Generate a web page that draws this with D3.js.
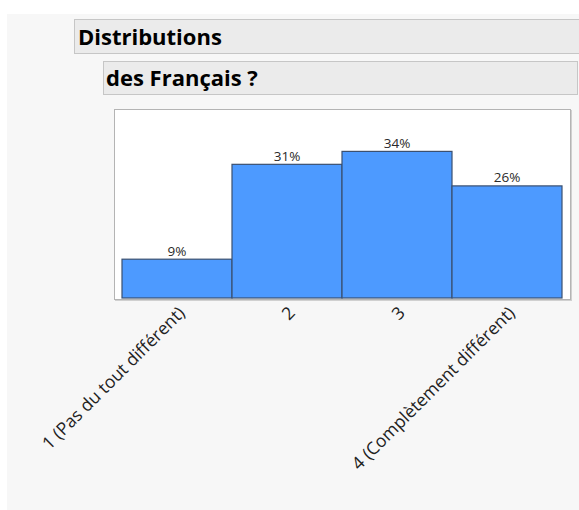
<!DOCTYPE html>
<html>
<head>
<meta charset="utf-8">
<script src="https://cdn.jsdelivr.net/npm/d3@7"></script>
<style>
  body { margin: 0; background: #fff; }
  svg { display: block; font-family: "Open Sans", "Noto Sans", sans-serif; }
</style>
</head>
<body>
<div id="chart"></div>
<script>
// data
var categories = ["1 (Pas du tout différent)", "2", "3", "4 (Complètement différent)"];
var percents = [9, 31, 34, 26];
var barLabels = ["9%", "31%", "34%", "26%"];
var titles = ["Distributions", "des Français ?"];

var svgWidth = 579;
var svgHeight = 510;

var svg = d3.select("#chart").append("svg").attr("width", svgWidth).attr("height", svgHeight);

// grey report panel
svg.append("rect").attr("x", 7).attr("y", 14).attr("width", svgWidth).attr("height", svgHeight)
  .attr("fill", "#f7f7f7");

// outline headers
svg.append("rect").attr("x", 74.5).attr("y", 19.5).attr("width", 520).attr("height", 34)
  .attr("fill", "#ebebeb").attr("stroke", "#c6c6c6");
svg.append("text").attr("x", 78).attr("y", 45).attr("font-size", 22).attr("font-weight", "bold")
  .attr("fill", "#000").text(titles[0]);

svg.append("rect").attr("x", 103.5).attr("y", 61.5).attr("width", 474).attr("height", 33)
  .attr("fill", "#ebebeb").attr("stroke", "#c6c6c6");
svg.append("text").attr("x", 106).attr("y", 86).attr("font-size", 22).attr("font-weight", "bold")
  .attr("fill", "#000").text(titles[1]);

// plot frame
var frame = { left: 114, top: 109, right: 570, bottom: 299 };
svg.append("rect").attr("x", frame.left + 1.5).attr("y", frame.top + 1.5)
  .attr("width", frame.right - frame.left).attr("height", frame.bottom - frame.top)
  .attr("fill", "none").attr("stroke", "#d0d0d0");
svg.append("rect").attr("x", frame.left + 0.5).attr("y", frame.top + 0.5)
  .attr("width", frame.right - frame.left).attr("height", frame.bottom - frame.top)
  .attr("fill", "#fff").attr("stroke", "#b4b4b4");

// scales
var xScale = d3.scaleBand().domain(categories).range([122, 562]).paddingInner(0).paddingOuter(0);
var yScale = d3.scaleLinear().domain([0, 43.6]).range([298, 110]);

var chartGroup = svg.append("g");

chartGroup.selectAll("rect.bar").data(percents).enter().append("rect")
  .attr("class", "bar")
  .attr("x", (d, i) => xScale(categories[i]))
  .attr("y", d => yScale(d))
  .attr("width", xScale.bandwidth())
  .attr("height", d => yScale(0) - yScale(d))
  .attr("fill", "#4d9aff")
  .attr("stroke", "#3b5070")
  .attr("stroke-width", 1.2);

chartGroup.selectAll("text.val").data(percents).enter().append("text")
  .attr("class", "val")
  .attr("x", (d, i) => xScale(categories[i]) + xScale.bandwidth() / 2)
  .attr("y", d => yScale(d) - 3.5)
  .attr("text-anchor", "middle")
  .attr("font-size", 13.5)
  .attr("fill", "#2a2a2a")
  .text((d, i) => barLabels[i]);

// rotated category axis
var bottomAxis = d3.axisBottom(xScale).tickSize(0).tickPadding(0);
var axisG = svg.append("g").attr("transform", "translate(0, 299)").call(bottomAxis);
axisG.select(".domain").remove();
axisG.selectAll("text")
  .attr("font-size", 17.5)
  .attr("font-family", "\"Open Sans\", \"Noto Sans\", sans-serif")
  .attr("fill", "#222")
  .attr("text-anchor", "end")
  .attr("dy", null)
  .attr("y", 0)
  .attr("transform", "translate(9, 15) rotate(-45)");
</script>
</body>
</html>
